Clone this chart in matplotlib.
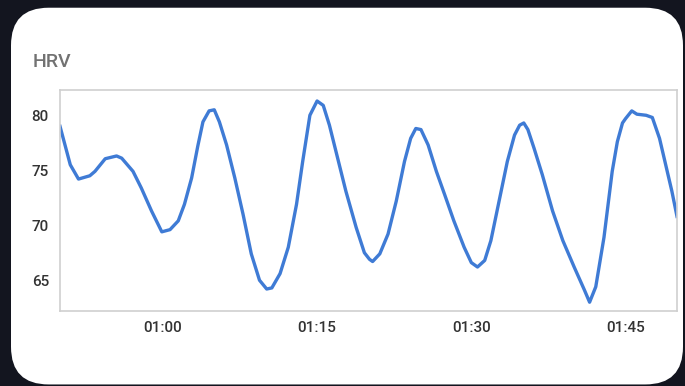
import matplotlib.pyplot as plt
from matplotlib.patches import FancyBboxPatch

# minutes after midnight
t = [50.0, 51.0, 51.8, 52.9, 53.4, 54.4, 55.5, 56.0, 57.1, 57.9, 58.9, 59.9, 60.7, 61.5,
     62.1, 62.8, 63.4, 63.9, 64.5, 65.0, 65.5, 66.2, 67.0, 67.8, 68.6, 69.4, 70.1, 70.6,
     71.4, 72.2, 73.0, 73.6, 74.3, 75.0, 75.6, 76.2, 77.0, 77.8, 78.8, 79.6, 80.1, 80.4,
     81.1, 81.9, 82.7, 83.5, 84.1, 84.6, 85.1, 85.8, 86.6, 87.4, 88.3, 89.3, 90.0, 90.6,
     91.3, 91.9, 92.7, 93.5, 94.2, 94.7, 95.1, 95.5, 96.1, 96.9, 97.9, 98.9, 100.0, 101.0,
     101.5, 102.1, 102.9, 103.7, 104.2, 104.7, 105.0, 105.6, 106.1, 107.0, 107.6, 108.3,
     108.9, 109.5, 110.0]
hrv = [79.0, 75.5, 74.2, 74.5, 74.9, 76.05, 76.3, 76.1, 74.9, 73.4, 71.3, 69.4, 69.6, 70.4,
       71.9, 74.3, 77.2, 79.4, 80.4, 80.5, 79.4, 77.3, 74.3, 71.0, 67.4, 65.0, 64.2, 64.3,
       65.6, 68.0, 71.9, 75.8, 80.0, 81.3, 80.9, 79.1, 76.1, 73.1, 69.8, 67.5, 66.9, 66.7,
       67.4, 69.2, 72.2, 75.8, 77.9, 78.8, 78.7, 77.3, 74.9, 72.8, 70.4, 68.0, 66.6, 66.2,
       66.8, 68.6, 72.2, 75.8, 78.2, 79.1, 79.3, 78.7, 77.0, 74.6, 71.3, 68.6, 66.2, 64.1,
       63.0, 64.4, 68.9, 74.9, 77.6, 79.3, 79.7, 80.4, 80.1, 80.0, 79.8, 77.9,
       75.5, 73.1, 70.8]

xticks = [60, 75, 90, 105]
xlabels = ["01:00", "01:15", "01:30", "01:45"]
yticks = [65, 70, 75, 80]

plt.rcParams['font.family'] = ['Roboto', 'DejaVu Sans']

fig = plt.figure(figsize=(6.85, 3.86), dpi=100)
fig.patch.set_facecolor("#13151f")

# white card behind everything
card = FancyBboxPatch((11 / 685, 0.004), 672 / 685, 0.98 - 0.004,
                      boxstyle="round,pad=0,rounding_size=0.055",
                      transform=fig.transFigure, facecolor="white",
                      edgecolor="none", mutation_aspect=685 / 386, zorder=0)
fig.patches.append(card)

ax = fig.add_axes([60 / 685, 1 - 311 / 386, 617 / 685, 221 / 386])
ax.set_zorder(2)
ax.plot(t, hrv, color="#3f7bd5", linewidth=2.4, solid_joinstyle="round")
ax.set_xlim(50, 110)
ax.set_ylim(62.2, 82.3)
ax.set_xticks(xticks)
ax.set_xticklabels(xlabels)
ax.set_yticks(yticks)
for s in ax.spines.values():
    s.set_color("#cfcfcf")
    s.set_linewidth(1.2)
ax.tick_params(length=0, labelsize=11, labelcolor="#333333")
ax.tick_params(axis="y", pad=8)
ax.tick_params(axis="x", pad=7)
for lab in ax.get_xticklabels() + ax.get_yticklabels():
    lab.set_fontweight("medium")

fig.text(33 / 685, 1 - 62 / 386, "HRV", fontsize=14, color="#727272",
         fontweight="medium", va="center", ha="left", zorder=3)

fig.savefig("out.png", dpi=100, facecolor=fig.get_facecolor())
